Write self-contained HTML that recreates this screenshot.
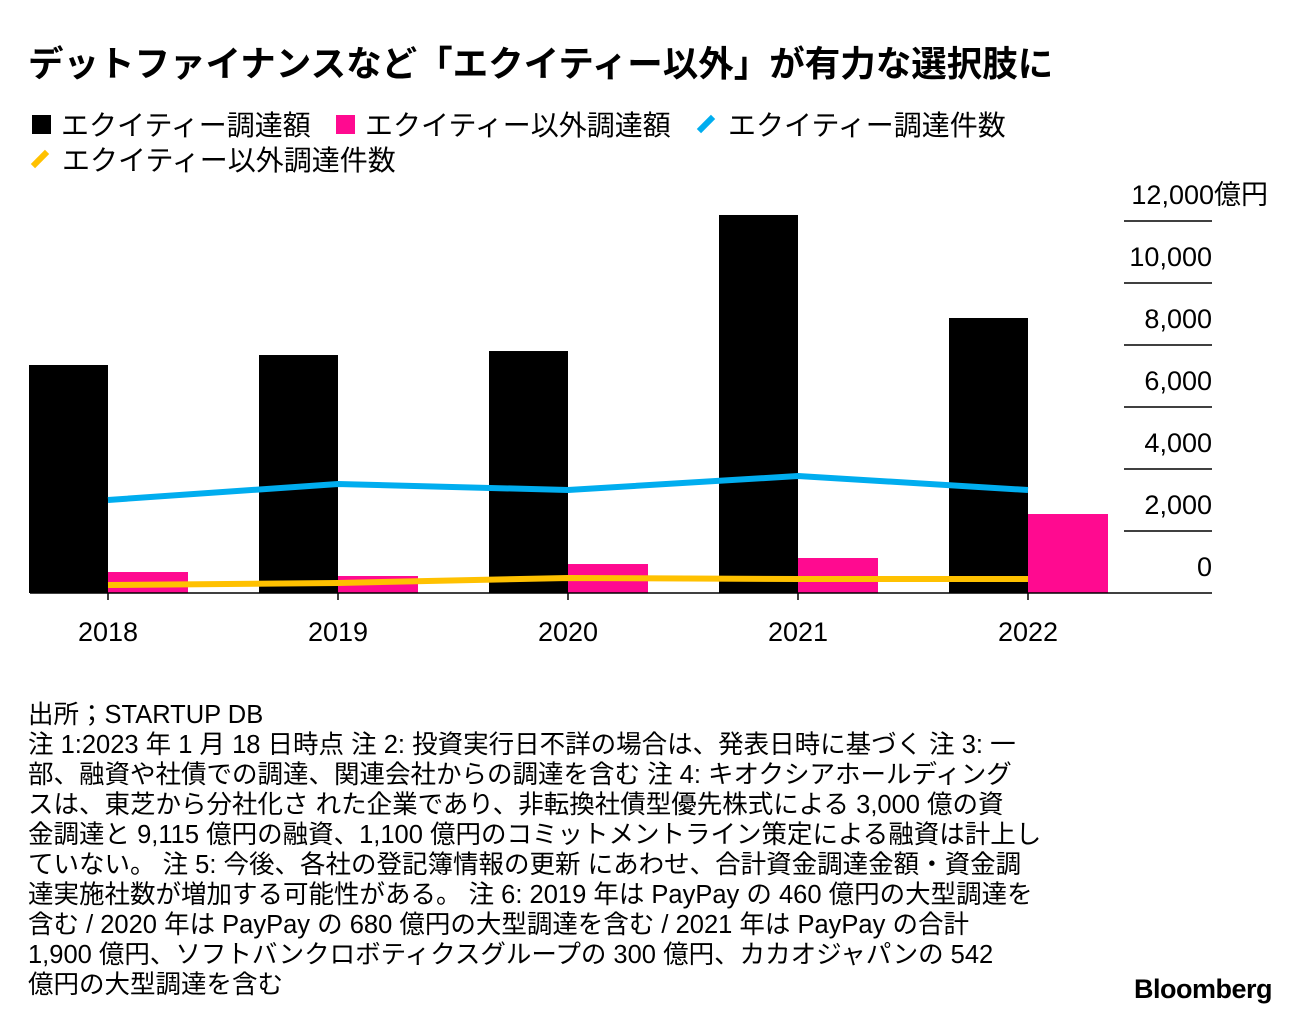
<!DOCTYPE html>
<html><head><meta charset="utf-8">
<style>
body{margin:0;width:1296px;height:1024px;background:#fff;font-family:"Liberation Sans","Noto Sans CJK JP",sans-serif;color:#000;position:relative;overflow:hidden}
.title{position:absolute;left:28px;top:36px;font-size:35.5px;font-weight:bold;white-space:nowrap}
.leg{position:absolute;font-size:28px;white-space:nowrap;display:flex;align-items:center}
.sq{width:19px;height:19px;display:inline-block;margin-right:10px}
.ln{width:20px;height:6px;display:inline-block;margin-right:12px;transform:rotate(-45deg)}
.notes{position:absolute;left:28px;top:700px;font-size:25.5px;line-height:30px;white-space:nowrap}
.logo{position:absolute;right:24px;top:974px;font-size:27px;font-weight:bold;letter-spacing:-0.5px}
svg{position:absolute;left:0;top:0}
</style></head><body>
<div class="title">デットファイナンスなど「エクイティー以外」が有力な選択肢に</div>
<div class="leg" style="left:32px;top:104px"><span class="sq" style="background:#000"></span>エクイティー調達額</div>
<div class="leg" style="left:336px;top:104px"><span class="sq" style="background:#ff0a90"></span>エクイティー以外調達額</div>
<div class="leg" style="left:696px;top:104px"><span class="ln" style="background:#00adef"></span>エクイティー調達件数</div>
<div class="leg" style="left:30px;top:139px"><span class="ln" style="background:#ffc100"></span>エクイティー以外調達件数</div>
<svg id="chart" width="1296" height="1024"></svg>
<div class="notes">出所；STARTUP DB<br>注 1:2023 年 1 月 18 日時点 注 2: 投資実行日不詳の場合は、発表日時に基づく 注 3: 一<br>部、融資や社債での調達、関連会社からの調達を含む 注 4: キオクシアホールディング<br>スは、東芝から分社化さ れた企業であり、非転換社債型優先株式による 3,000 億の資<br>金調達と 9,115 億円の融資、1,100 億円のコミットメントライン策定による融資は計上し<br>ていない。 注 5: 今後、各社の登記簿情報の更新 にあわせ、合計資金調達金額・資金調<br>達実施社数が増加する可能性がある。 注 6: 2019 年は PayPay の 460 億円の大型調達を<br>含む / 2020 年は PayPay の 680 億円の大型調達を含む / 2021 年は PayPay の合計<br>1,900 億円、ソフトバンクロボティクスグループの 300 億円、カカオジャパンの 542<br>億円の大型調達を含む</div>
<div class="logo">Bloomberg</div>
<script>
const categories=["2018","2019","2020","2021","2022"];
const equityAmount=[7355,7677,7806,12194,8871];
const nonEquityAmount=[677,548,935,1129,2548];
const equityCount=[3000,3516,3323,3774,3323];
const nonEquityCount=[258,323,484,452,452];
const yTicks=[0,2000,4000,6000,8000,10000,12000];
const yTickLabels=["0","2,000","4,000","6,000","8,000","10,000","12,000億円"];
const NS="http://www.w3.org/2000/svg";
const svg=document.getElementById('chart');
const y0=593,k=0.031;
const y=v=>y0-v*k;
const x=i=>108+i*230;
const bw=79;
function mk(t,a){const e=document.createElementNS(NS,t);for(const n in a)e.setAttribute(n,a[n]);svg.appendChild(e);return e;}
yTicks.forEach((v,i)=>{
 if(v>0){const g=mk('line',{x1:1124,x2:1212,y1:y(v),y2:y(v),stroke:'#000','stroke-width':1.5});
 
 }
 const t=mk('text',{x:1212,y:y(v)-17,'text-anchor':'end','font-size':27,'font-family':'Liberation Sans, Noto Sans CJK JP, sans-serif'});
 if(i==yTicks.length-1){t.setAttribute('x',1268);}
 t.textContent=yTickLabels[i];
 
 
});
categories.forEach((c,i)=>{
 const b=mk('rect',{x:x(i)-bw,y:y(equityAmount[i]),width:bw,height:equityAmount[i]*k,fill:'#000'});
 
 
 const p=mk('rect',{x:x(i),y:y(nonEquityAmount[i]),width:bw+1,height:nonEquityAmount[i]*k,fill:'#ff0a90'});
 
 
 const tk=mk('line',{x1:x(i),x2:x(i),y1:y0,y2:y0+7,stroke:'#000','stroke-width':1.5});
 
 
 const t=mk('text',{x:x(i),y:641,'text-anchor':'middle','font-size':27,'font-family':'Liberation Sans, sans-serif'});
 t.textContent=c;
 
 
});
const base=mk('line',{x1:30,x2:1212,y1:y0,y2:y0,stroke:'#000','stroke-width':1.5});


const l1=mk('polyline',{points:equityCount.map((v,i)=>x(i)+','+y(v)).join(' '),fill:'none',stroke:'#00adef','stroke-width':6,'stroke-linejoin':'round'});


const l2=mk('polyline',{points:nonEquityCount.map((v,i)=>x(i)+','+y(v)).join(' '),fill:'none',stroke:'#ffc100','stroke-width':6,'stroke-linejoin':'round'});


</script>
</body></html>
